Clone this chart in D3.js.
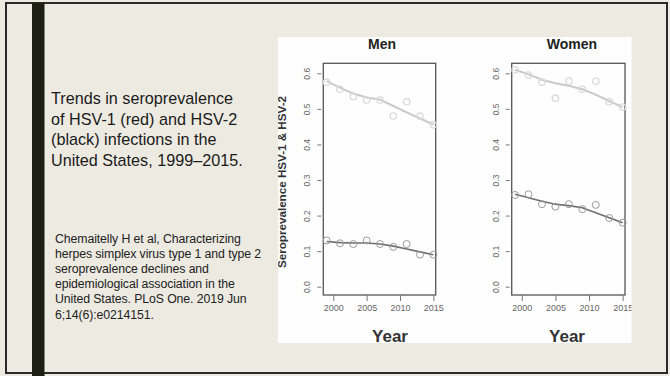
<!DOCTYPE html>
<html>
<head>
<meta charset="utf-8">
<script src="https://cdn.jsdelivr.net/npm/d3@7"></script>
<style>
  body { margin: 0; background: #edeae2; }
  svg { display: block; font-family: "Liberation Sans", Arial, sans-serif; }
</style>
</head>
<body>
<div id="canvas"></div>
<script>
// survey cycles 1999-2000 ... 2015-2016, plotted at the first year
const years = [1999, 2001, 2003, 2005, 2007, 2009, 2011, 2013, 2015];
const yTicks = [0, 0.1, 0.2, 0.3, 0.4, 0.5, 0.6];
const xTicks = [2000, 2005, 2010, 2015];

const menHsv1 = [0.575, 0.555, 0.535, 0.525, 0.525, 0.48, 0.52, 0.48, 0.455];
const menHsv1Fit = [0.578, 0.560, 0.543, 0.532, 0.526, 0.508, 0.490, 0.473, 0.456];
const menHsv2 = [0.13, 0.122, 0.12, 0.13, 0.12, 0.112, 0.12, 0.09, 0.09];
const menHsv2Fit = [0.127, 0.124, 0.123, 0.123, 0.120, 0.114, 0.106, 0.098, 0.090];

const womenHsv1 = [0.61, 0.595, 0.575, 0.53, 0.578, 0.555, 0.578, 0.52, 0.505];
const womenHsv1Fit = [0.610, 0.597, 0.582, 0.572, 0.565, 0.555, 0.540, 0.522, 0.505];
const womenHsv2 = [0.258, 0.26, 0.232, 0.225, 0.232, 0.218, 0.23, 0.193, 0.18];
const womenHsv2Fit = [0.260, 0.250, 0.240, 0.232, 0.228, 0.222, 0.208, 0.194, 0.180];

const titleLines = ["Trends in seroprevalence", "of HSV-1 (red) and HSV-2",
  "(black) infections in the", "United States, 1999\u20132015."];
const citeLines = ["Chemaitelly H et al, Characterizing",
  "herpes simplex virus type 1 and type 2", "seroprevalence declines and",
  "epidemiological association in the", "United States. PLoS One. 2019 Jun",
  "6;14(6):e0214151."];

const svg = d3.select("#canvas")
  .append("svg")
  .attr("width", 670)
  .attr("height", 376);

// slide frame
svg.append("rect").attr("x", 0).attr("y", 0).attr("width", 670).attr("height", 376)
  .attr("fill", "#edeae2");
svg.append("rect").attr("x", 6).attr("y", 3).attr("width", 661).attr("height", 370)
  .attr("fill", "none").attr("stroke", "#2a2a2a").attr("stroke-width", 2);
svg.append("rect").attr("x", 32).attr("y", 3).attr("width", 12.5).attr("height", 373)
  .attr("fill", "#1d1f14");

// left text
svg.append("g").selectAll("text").data(titleLines).join("text")
  .attr("x", 51).attr("y", (d, i) => 104 + i * 20.5)
  .attr("font-size", 16.2).attr("fill", "#1a1a1a")
  .text(d => d);

svg.append("g").selectAll("text").data(citeLines).join("text")
  .attr("x", 55).attr("y", (d, i) => 243 + i * 15.1)
  .attr("font-size", 12.3).attr("fill", "#222")
  .attr("letter-spacing", -0.1)
  .text(d => d);

// chart picture panel
svg.append("defs").append("clipPath").attr("id", "panel")
  .append("rect").attr("x", 278).attr("y", 37).attr("width", 353.5).attr("height", 306);
svg.append("rect").attr("x", 278).attr("y", 37).attr("width", 353.5).attr("height", 306)
  .attr("fill", "#fefefe");
const chart = svg.append("g").attr("clip-path", "url(#panel)");

const y = d3.scaleLinear().domain([0, 0.6]).range([286.7, 73.3]);

function drawPanel(p) {
  const x = d3.scaleLinear().domain([1998.5, 2015.35]).range([p.left, p.right]);
  const g = chart.append("g");

  g.append("text").attr("x", p.titleX).attr("y", 49)
    .attr("text-anchor", "middle").attr("font-size", 14).attr("font-weight", "bold")
    .attr("fill", "#222").text(p.name);

  g.append("rect").attr("x", p.left).attr("y", 63.3)
    .attr("width", p.right - p.left).attr("height", 295 - 63.3)
    .attr("fill", "none").attr("stroke", "#555").attr("stroke-width", 1.3);

  // y axis (R style, rotated labels)
  const yAxis = g.append("g")
    .attr("transform", `translate(${p.left - 2},0)`)
    .call(d3.axisLeft(y).tickValues(yTicks).tickFormat(d3.format(".1f")).tickSize(4).tickPadding(0));
  yAxis.select(".domain").remove();
  yAxis.selectAll("line").attr("stroke", "#777");
  yAxis.selectAll("text")
    .attr("transform", "rotate(-90)").attr("x", 0).attr("y", -14)
    .attr("dy", "0.35em").attr("text-anchor", "middle")
    .attr("font-size", 8.5).attr("fill", "#666").attr("font-family", "Liberation Sans, Arial");

  // x axis
  const xAxis = g.append("g")
    .attr("transform", "translate(0,295)")
    .call(d3.axisBottom(x).tickValues(xTicks).tickFormat(d3.format("d")).tickSize(6).tickPadding(4));
  xAxis.select(".domain").remove();
  xAxis.selectAll("line").attr("stroke", "#777");
  xAxis.selectAll("text").attr("font-size", 9).attr("fill", "#666")
    .attr("font-family", "Liberation Sans, Arial");

  g.append("text").attr("x", p.yearX).attr("y", 342)
    .attr("text-anchor", "middle").attr("font-size", 17).attr("font-weight", "bold")
    .attr("fill", "#333").text("Year");

  const line = d3.line().x((d, i) => x(years[i])).y(d => y(d));

  // HSV-1 (faded red in the source picture)
  g.append("path").datum(p.hsv1Fit).attr("d", line)
    .attr("fill", "none").attr("stroke", "#c9c9c9").attr("stroke-width", 2);
  g.append("g").selectAll("circle").data(p.hsv1).join("circle")
    .attr("cx", (d, i) => x(years[i])).attr("cy", d => y(d)).attr("r", 3.2)
    .attr("fill", "none").attr("stroke", "#dadada").attr("stroke-width", 1.3);

  // HSV-2
  g.append("path").datum(p.hsv2Fit).attr("d", line)
    .attr("fill", "none").attr("stroke", "#6e6e6e").attr("stroke-width", 1.6);
  g.append("g").selectAll("circle").data(p.hsv2).join("circle")
    .attr("cx", (d, i) => x(years[i])).attr("cy", d => y(d)).attr("r", 3.5)
    .attr("fill", "none").attr("stroke", "#9a9a9a").attr("stroke-width", 1);
}

drawPanel({ name: "Men", left: 323.3, right: 435.7, titleX: 382, yearX: 390,
  hsv1: menHsv1, hsv1Fit: menHsv1Fit, hsv2: menHsv2, hsv2Fit: menHsv2Fit });
drawPanel({ name: "Women", left: 511.7, right: 625, titleX: 572, yearX: 567,
  hsv1: womenHsv1, hsv1Fit: womenHsv1Fit, hsv2: womenHsv2, hsv2Fit: womenHsv2Fit });

// y axis title of the Men panel
chart.append("text")
  .attr("transform", "translate(286,182) rotate(-90)")
  .attr("text-anchor", "middle").attr("font-size", 10).attr("font-weight", "bold")
  .attr("fill", "#333")
  .attr("textLength", 172).attr("lengthAdjust", "spacingAndGlyphs")
  .text("Seroprevalence HSV-1 & HSV-2");
</script>
</body>
</html>
